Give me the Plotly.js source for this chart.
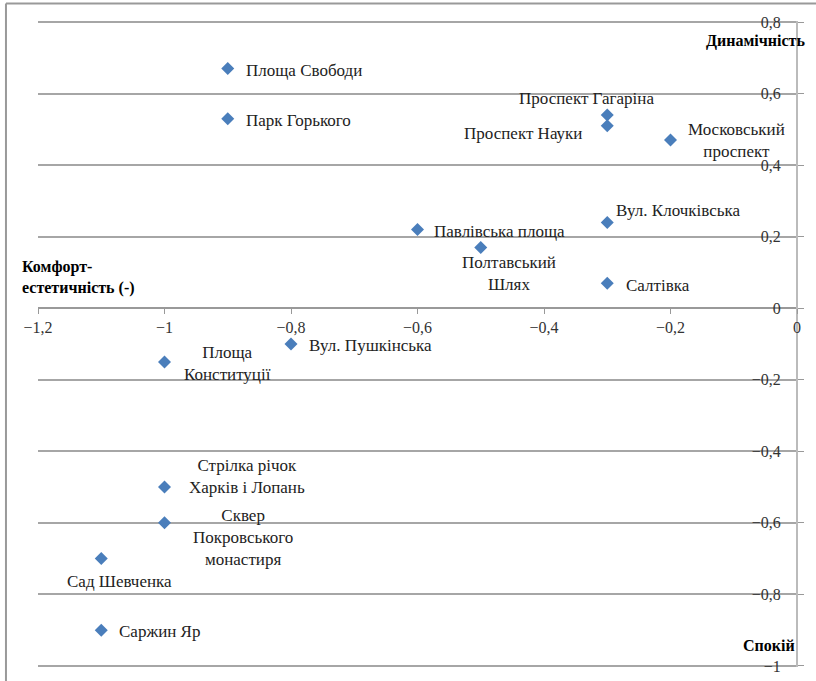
<!DOCTYPE html>
<html>
<head>
<meta charset="utf-8">
<script src="https://cdn.plot.ly/plotly-3.0.1.min.js"></script>
<style>html,body{margin:0;padding:0;background:#fff;}#chart{width:816px;height:681px;}
#chart svg text{font-family:'Liberation Serif' !important;}</style>
</head>
<body>
<div id="chart"></div>
<script>
// Data
const places = ["Площа Свободи","Парк Горького","Проспект Гагаріна","Проспект Науки","Московський<br>проспект","Вул. Клочківська","Павлівська площа","Полтавський<br>Шлях","Салтівка","Вул. Пушкінська","Площа<br>Конституції","Стрілка річок<br>Харків і Лопань","Сквер<br>Покровського<br>монастиря","Сад Шевченка","Саржин Яр"];
const comfort = [-0.9,-0.9,-0.3,-0.3,-0.2,-0.3,-0.6,-0.5,-0.3,-0.8,-1.0,-1.0,-1.0,-1.1,-1.1];
const dynamism = [0.67,0.53,0.54,0.51,0.47,0.24,0.22,0.17,0.07,-0.1,-0.15,-0.5,-0.6,-0.7,-0.9];
const xTickVals = [-1.2,-1,-0.8,-0.6,-0.4,-0.2,0];
const yTickVals = [-1,-0.8,-0.6,-0.4,-0.2,0,0.2,0.4,0.6,0.8];

// label placement (style only): [xanchor, xshift, yshift]
const labelPlace = [
  ["left",16,-2],["left",16,-2],["center",-21,17],["right",-23,-8],["left",15,0],
  ["left",7,12],["left",14,-2],["center",28,-26],["left",17,-2],["left",16,-1],
  ["center",63,-2],["center",82,11],["center",78,-15],["center",18,-23],["left",16,-1]
];

const SERIF = "Liberation Serif";
const annotations = places.map((t,i)=>({
  x: comfort[i], y: dynamism[i], xref:"x", yref:"y", text:t, showarrow:false,
  xanchor: labelPlace[i][0], yanchor:"middle", xshift: labelPlace[i][1], yshift: labelPlace[i][2],
  align:"center", font:{family:SERIF, size:17, color:"#222"}
}));
annotations.push(
  {xref:"paper", yref:"paper", x:1.0132, y:0.969, xanchor:"right", yanchor:"middle", text:"<b>Динамічність</b>", showarrow:false, font:{family:SERIF,size:16,color:"#000"}},
  {xref:"paper", yref:"paper", x:1.0, y:0.0326, xanchor:"right", yanchor:"middle", text:"<b>Спокій</b>", showarrow:false, font:{family:SERIF,size:16,color:"#000"}},
  {xref:"paper", yref:"paper", x:-0.0237, y:0.6033, xanchor:"left", yanchor:"middle", align:"left", text:"<b>Комфорт-<br>естетичність (-)</b>", showarrow:false, font:{family:SERIF,size:16,color:"#000"}}
);

const trace = {
  x: comfort, y: dynamism, mode:"markers", type:"scatter",
  marker:{symbol:"diamond", size:10, color:"#4a7ebb"}, hoverinfo:"skip"
};

const layout = {
  width:816, height:681,
  margin:{l:38, r:19, t:21, b:14, pad:0},
  paper_bgcolor:"#fff", plot_bgcolor:"#fff",
  separators:", ",
  showlegend:false,
  font:{family:SERIF, size:16, color:"#333"},
  xaxis:{
    range:[-1.2,0], tickvals:xTickVals, showgrid:false, zeroline:false,
    anchor:"free", position:1.003/1.806,
    showline:true, linecolor:"#999", linewidth:2,
    ticks:"outside", ticklen:5, tickcolor:"#999", tickwidth:1,
    tickfont:{family:SERIF,size:16,color:"#333"}
  },
  yaxis:{
    range:[-1.003,0.803], tickvals:yTickVals, side:"left", anchor:"free", position:1,
    ticklabelstandoff:12,
    showgrid:true, gridcolor:"#a6a6a6", gridwidth:2, zeroline:false,
    showline:true, linecolor:"#bbb", linewidth:2,
    ticks:"inside", ticklen:6, tickcolor:"#999",
    tickfont:{family:SERIF,size:16,color:"#333"}
  },
  annotations: annotations,
  shapes:[
    {type:"line", xref:"paper", yref:"paper", x0:-0.0422, x1:1.03, y0:1.027, y1:1.027, line:{color:"#999", width:2}},
    {type:"line", xref:"paper", yref:"paper", x0:-0.0422, x1:-0.0422, y0:1.027, y1:-0.03, line:{color:"#999", width:2}}
  ]
};

Plotly.newPlot("chart", [trace], layout, {displayModeBar:false}).then(function(gd){
  gd.querySelectorAll("svg text, svg tspan").forEach(function(t){
    t.style.setProperty("font-family", "'Liberation Serif'", "important");
  });
});
</script>
</body>
</html>
